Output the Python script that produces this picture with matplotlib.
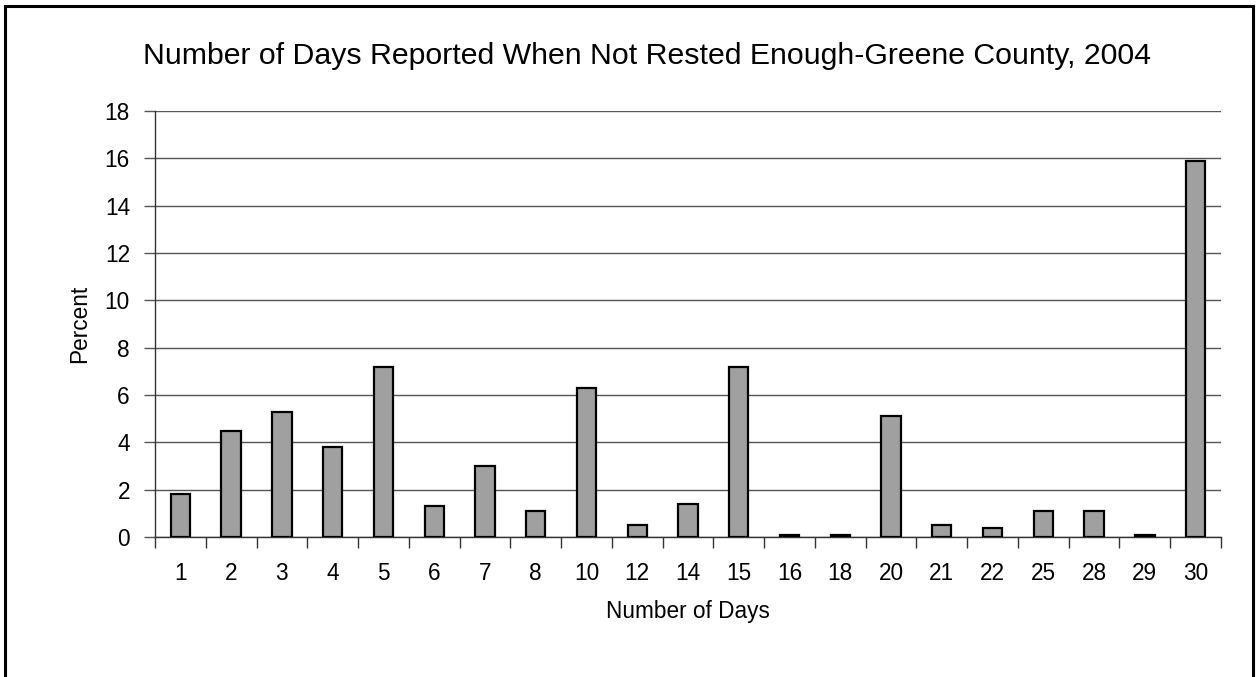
import matplotlib
matplotlib.use("Agg")
import matplotlib.pyplot as plt
from matplotlib.patches import Rectangle
import numpy as np

plt.rcParams['font.family'] = ['Liberation Sans', 'DejaVu Sans']

categories = ["1", "2", "3", "4", "5", "6", "7", "8", "10", "12", "14", "15",
              "16", "18", "20", "21", "22", "25", "28", "29", "30"]
percent = [1.8, 4.5, 5.3, 3.8, 7.2, 1.3, 3.0, 1.1, 6.3, 0.5, 1.4, 7.2,
           0.1, 0.1, 5.1, 0.5, 0.4, 1.1, 1.1, 0.1, 15.9]
yticks = [0, 2, 4, 6, 8, 10, 12, 14, 16, 18]

W, H = 1257, 677
fig = plt.figure(figsize=(W / 100, H / 100), dpi=100)

# outer frame
fig.patches.append(Rectangle((5 / W, -0.01), (1253 - 5) / W, 1 - 6 / H + 0.01,
                             transform=fig.transFigure, fill=False,
                             edgecolor='black', linewidth=2.2))

left, right, top, bottom = 155, 1221, 111, 537
ax = fig.add_axes([left / W, 1 - bottom / H, (right - left) / W, (bottom - top) / H])

x = np.arange(len(categories))
ax.bar(x, percent, width=0.38, color='#A0A0A0', edgecolor='black', linewidth=1.6, zorder=3)

fs = 16.3
ax.set_xlim(-0.5, len(categories) - 0.5)
ax.set_ylim(0, 18)
ax.set_yticks(yticks)
ax.set_yticklabels([str(t) for t in yticks], fontsize=fs)
ax.yaxis.grid(True, color='#555555', linewidth=1.0, zorder=0)
ax.set_axisbelow(True)

ax.set_xticks(x)
ax.set_xticklabels(categories, fontsize=fs)
ax.tick_params(axis='x', length=0, pad=18)
ax.set_xticks(np.arange(-0.5, len(categories), 1.0), minor=True)
ax.tick_params(axis='x', which='minor', length=8, width=1, color='#333333', direction='out')
ax.tick_params(axis='y', length=8, width=1, color='#555555', direction='out', pad=10)

for s in ['top', 'right']:
    ax.spines[s].set_visible(False)
ax.spines['left'].set_color('#333333')
ax.spines['bottom'].set_color('#333333')
ax.spines['left'].set_linewidth(1.0)
ax.spines['bottom'].set_linewidth(1.0)

ax.set_xlabel("Number of Days", fontsize=fs, labelpad=11)
ax.set_ylabel("Percent", fontsize=fs, labelpad=10)

fig.text(647 / W, 1 - 56 / H, "Number of Days Reported When Not Rested Enough-Greene County, 2004",
         ha='center', va='center', fontsize=21.8)

fig.savefig("out.png", dpi=100)
